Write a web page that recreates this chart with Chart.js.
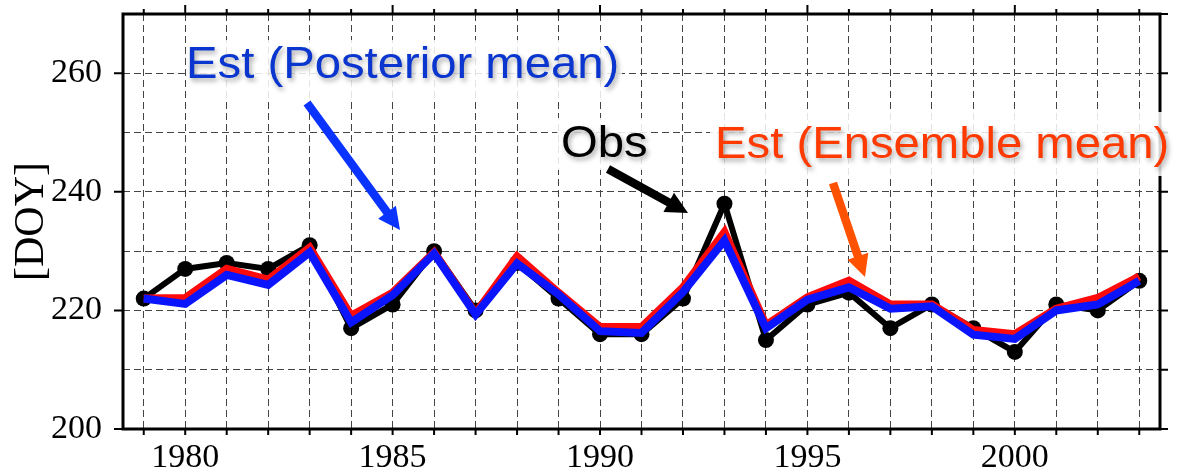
<!DOCTYPE html>
<html>
<head>
<meta charset="utf-8">
<script src="https://cdn.jsdelivr.net/npm/chart.js@4.4.1/dist/chart.umd.min.js"></script>
<style>
  html, body { margin: 0; padding: 0; background: #fff; }
  canvas { display: block; }
</style>
</head>
<body>
<canvas id="doyChart" width="1177" height="475"></canvas>
<script>
// Yearly day-of-year values: observations and two estimates
const years = [1979, 1980, 1981, 1982, 1983, 1984, 1985, 1986, 1987, 1988, 1989, 1990,
               1991, 1992, 1993, 1994, 1995, 1996, 1997, 1998, 1999, 2000, 2001, 2002, 2003];
const obs = [222, 227, 228, 227, 231, 217, 221, 230, 220, 228, 222, 216,
             216, 222, 238, 215, 221, 223, 217, 221, 217, 213, 221, 220, 225];
const ensembleMean = [222, 222.1, 227, 225.2, 230.6, 219.1, 223, 229.8, 219.5, 229.1, 223, 217.2,
                      217.2, 223.9, 233.2, 217.5, 222.2, 225, 221, 221, 216.7, 216, 220.3, 222.1, 225.7];
const posteriorMean = [222, 221.1, 226, 224.3, 229.8, 218, 222.6, 229.6, 219.3, 227.9, 222.7, 216.5,
                       216.2, 223.1, 231.8, 217, 221.8, 223.9, 220.3, 220.7, 215.9, 215.2, 220, 221, 225];
const yearTickLabels = [1980, 1985, 1990, 1995, 2000];
const doyTickLabels = [200, 220, 240, 260];
const doyGrid = [200, 210, 220, 230, 240, 250, 260, 270];

const pts = vals => vals.map((v, i) => ({ x: years[i], y: v }));

// Frame, outward tick marks, annotation labels and arrows
const framePlugin = {
  id: 'framePlugin',
  afterDraw(chart) {
    const { ctx, chartArea: a, scales: { x, y } } = chart;
    ctx.save();

    ctx.strokeStyle = '#000';
    ctx.lineWidth = 2;
    ctx.beginPath();
    years.forEach(v => {
      const px = x.getPixelForValue(v);
      const major = yearTickLabels.includes(v);
      ctx.moveTo(px, a.bottom); ctx.lineTo(px, a.bottom + 6);
      ctx.moveTo(px, a.top); ctx.lineTo(px, a.top - (major ? 9 : 5));
    });
    doyGrid.forEach(v => {
      const py = y.getPixelForValue(v);
      if (doyTickLabels.includes(v)) { ctx.moveTo(a.left, py); ctx.lineTo(a.left - 9, py); }
      ctx.moveTo(a.right, py); ctx.lineTo(a.right + 8, py);
    });
    ctx.stroke();

    ctx.lineWidth = 3;
    ctx.strokeRect(a.left, a.top, a.right - a.left, a.bottom - a.top);

    // label backgrounds
    ctx.fillStyle = 'rgba(255,255,255,0.85)';
    ctx.fillRect(186, 40, 436, 58);
    ctx.fillRect(557, 118, 90, 52);
    ctx.fillRect(710, 112, 467, 64);

    const note = (text, color, left, base) => {
      ctx.save();
      ctx.font = '45px "Liberation Sans", Arial, sans-serif';
      ctx.fillStyle = color;
      ctx.textBaseline = 'alphabetic';
      ctx.textAlign = 'left';
      ctx.shadowColor = 'rgba(0,0,0,0.35)';
      ctx.shadowBlur = 5;
      ctx.shadowOffsetX = 2;
      ctx.shadowOffsetY = 3;
      ctx.translate(left, base);
      ctx.scale(1.05, 1);
      ctx.fillText(text, 0, 0);
      ctx.restore();
    };
    note('Est (Posterior mean)', '#0a36cf', 186, 78);
    note('Obs', '#000000', 561, 157);
    note('Est (Ensemble mean)', '#ff3a00', 715, 158);

    const arrow = (x0, y0, x1, y1, color) => {
      const ang = Math.atan2(y1 - y0, x1 - x0);
      const hl = 22, hw = 11, w = 8.5;
      const bx = x1 - hl * Math.cos(ang), by = y1 - hl * Math.sin(ang);
      ctx.save();
      ctx.strokeStyle = color;
      ctx.fillStyle = color;
      ctx.lineWidth = w;
      ctx.lineCap = 'butt';
      ctx.beginPath();
      ctx.moveTo(x0, y0);
      ctx.lineTo(bx + 2 * Math.cos(ang), by + 2 * Math.sin(ang));
      ctx.stroke();
      ctx.beginPath();
      ctx.moveTo(x1, y1);
      ctx.lineTo(bx + hw * Math.sin(ang), by - hw * Math.cos(ang));
      ctx.lineTo(bx - hw * Math.sin(ang), by + hw * Math.cos(ang));
      ctx.closePath();
      ctx.fill();
      ctx.restore();
    };
    arrow(307, 103, 400, 230, '#0a33ff');
    arrow(608, 169, 688, 213, '#000000');
    arrow(833, 183, 865, 277, '#ff5200');

    ctx.restore();
  }
};

const gridStyle = { color: '#444444', lineWidth: 1, drawTicks: false };
const serif = '"Liberation Serif", "Times New Roman", serif';

new Chart(document.getElementById('doyChart'), {
  type: 'line',
  data: {
    datasets: [
      {
        label: 'Est (Posterior mean)',
        data: pts(posteriorMean),
        borderColor: '#0a14ff',
        borderWidth: 8,
        pointRadius: 0,
        order: 0
      },
      {
        label: 'Est (Ensemble mean)',
        data: pts(ensembleMean),
        borderColor: '#ff0a0a',
        borderWidth: 8,
        pointRadius: 0,
        order: 1
      },
      {
        label: 'Obs',
        data: pts(obs),
        borderColor: '#000000',
        borderWidth: 6,
        pointRadius: 8,
        pointBackgroundColor: '#000000',
        pointBorderWidth: 0,
        order: 2
      }
    ]
  },
  options: {
    responsive: false,
    animation: false,
    layout: { padding: { top: 14, right: 17, left: 0, bottom: 0 } },
    plugins: { legend: { display: false }, tooltip: { enabled: false } },
    scales: {
      x: {
        type: 'linear',
        min: 1978.5,
        max: 2003.5,
        afterBuildTicks: s => { s.ticks = years.map(v => ({ value: v })); },
        afterFit: s => { s.height = 46; s.paddingLeft = 0; s.paddingRight = 0; },
        grid: gridStyle,
        border: { display: false, dash: [7, 4] },
        ticks: {
          autoSkip: false,
          maxRotation: 0,
          padding: 9,
          color: '#000',
          font: { family: serif, size: 34 },
          callback: v => (yearTickLabels.includes(v) ? String(v) : '')
        }
      },
      y: {
        min: 200,
        max: 270,
        afterBuildTicks: s => { s.ticks = doyGrid.map(v => ({ value: v })); },
        afterFit: s => { s.width = 123; s.paddingTop = 0; s.paddingBottom = 0; },
        grid: gridStyle,
        border: { display: false, dash: [7, 4] },
        title: {
          display: true,
          text: '[DOY]',
          color: '#000',
          padding: { top: 7, bottom: 0 },
          font: { family: serif, size: 42 }
        },
        ticks: {
          padding: 21,
          color: '#000',
          font: { family: serif, size: 34 },
          callback: v => (doyTickLabels.includes(v) ? String(v) : '')
        }
      }
    }
  },
  plugins: [framePlugin]
});
</script>
</body>
</html>
